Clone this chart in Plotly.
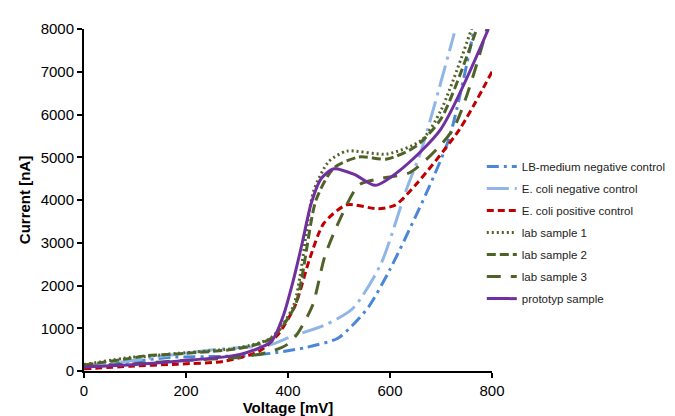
import plotly.graph_objects as go

# LB-medium negative control
lb_v = [0, 50, 100, 171, 275, 349, 391, 435, 497, 525, 558, 600, 673, 717, 765]
lb_i = [100, 150, 230, 320, 343, 389, 457, 549, 760, 1050, 1500, 2377, 4206, 5486, 8000]

# E. coli negative control
en_v = [0, 50, 100, 152, 257, 367, 405, 472, 527, 582, 631, 662, 726]
en_i = [120, 170, 250, 343, 503, 617, 800, 1074, 1463, 2500, 4206, 5190, 7900]

# E. coli positive control
ep_v = [0, 92, 183, 275, 343, 380, 414, 442, 470, 515, 576, 610, 650, 736, 800]
ep_i = [50, 114, 160, 229, 457, 846, 1531, 2606, 3450, 3886, 3794, 3880, 4350, 5646, 7000]

# lab sample 1
l1_v = [0, 92, 123, 183, 306, 367, 411, 450, 480, 515, 594, 662, 700, 760]
l1_i = [150, 320, 343, 411, 549, 777, 1531, 4200, 4900, 5143, 5074, 5400, 6100, 8000]

# lab sample 2
l2_v = [0, 92, 123, 183, 306, 367, 414, 455, 490, 539, 594, 650, 700, 770]
l2_i = [140, 300, 360, 400, 530, 760, 1531, 4000, 4750, 5006, 4960, 5250, 5900, 8000]

# lab sample 3
l3_v = [0, 100, 200, 306, 367, 398, 417, 448, 472, 500, 539, 582, 640, 723, 790]
l3_i = [100, 170, 250, 320, 457, 617, 846, 1531, 2674, 3500, 4350, 4503, 4650, 5646, 8000]

# prototyp sample
pr_v = [0, 100, 183, 306, 367, 391, 410, 428, 445, 465, 490, 530, 571, 620, 699, 793]
pr_i = [90, 150, 229, 389, 686, 1300, 2100, 3000, 3900, 4500, 4731, 4600, 4343, 4700, 5646, 8000]

names = ["LB-medium negative control", "E. coli negative control", "E. coli positive control",
         "lab sample 1", "lab sample 2", "lab sample 3", "prototyp sample"]

series = [(lb_v, lb_i), (en_v, en_i), (ep_v, ep_i), (l1_v, l1_i), (l2_v, l2_i), (l3_v, l3_i), (pr_v, pr_i)]
styles = [
    dict(color="#4a87d6", dash="12px,5px,3px,5px", width=3),
    dict(color="#8fb6e6", dash="22px,6px,3px,6px", width=3),
    dict(color="#c00000", dash="7px,4px", width=3),
    dict(color="#4f6228", dash="2px,3px", width=3),
    dict(color="#4f6228", dash="9px,4px", width=3),
    dict(color="#4f6228", dash="14px,10px", width=3),
    dict(color="#7030a0", dash="solid", width=3),
]

fig = go.Figure()
for k, ((v, i), n, s) in enumerate(zip(series, names, styles)):
    fig.add_trace(go.Scatter(x=v, y=i, mode="lines", name=n, legendgroup=f"g{k}",
                             line=dict(shape="spline", smoothing=0.7, **s)))

fig.update_layout(
    width=675, height=416,
    margin=dict(l=76, r=163, t=17, b=49),
    paper_bgcolor="white", plot_bgcolor="white",
    font=dict(family="Liberation Sans, Arial, sans-serif", color="black", size=15),
    legend=dict(x=0.975, y=0.64, xanchor="left", yanchor="top", bgcolor="rgba(0,0,0,0)",
                font=dict(size=11.5, color="#222222"), itemwidth=30, tracegroupgap=3),
    showlegend=True,
)
fig.update_xaxes(range=[0, 800], dtick=200, showline=True, linecolor="black", linewidth=2,
                 ticks="outside", ticklen=5, tickwidth=2, tickcolor="black", showgrid=False, zeroline=False,
                 tickfont=dict(size=15),
                 title=dict(text="<b>Voltage [mV]</b>", standoff=2, font=dict(size=15)))
fig.update_yaxes(range=[0, 8000], dtick=1000, showline=True, linecolor="black", linewidth=2,
                 ticks="outside", ticklen=5, tickwidth=2, tickcolor="black", showgrid=False, zeroline=False,
                 tickfont=dict(size=15),
                 title=dict(text="<b>Current [nA]</b>", standoff=6, font=dict(size=15)))

fig.write_html("out.html")
